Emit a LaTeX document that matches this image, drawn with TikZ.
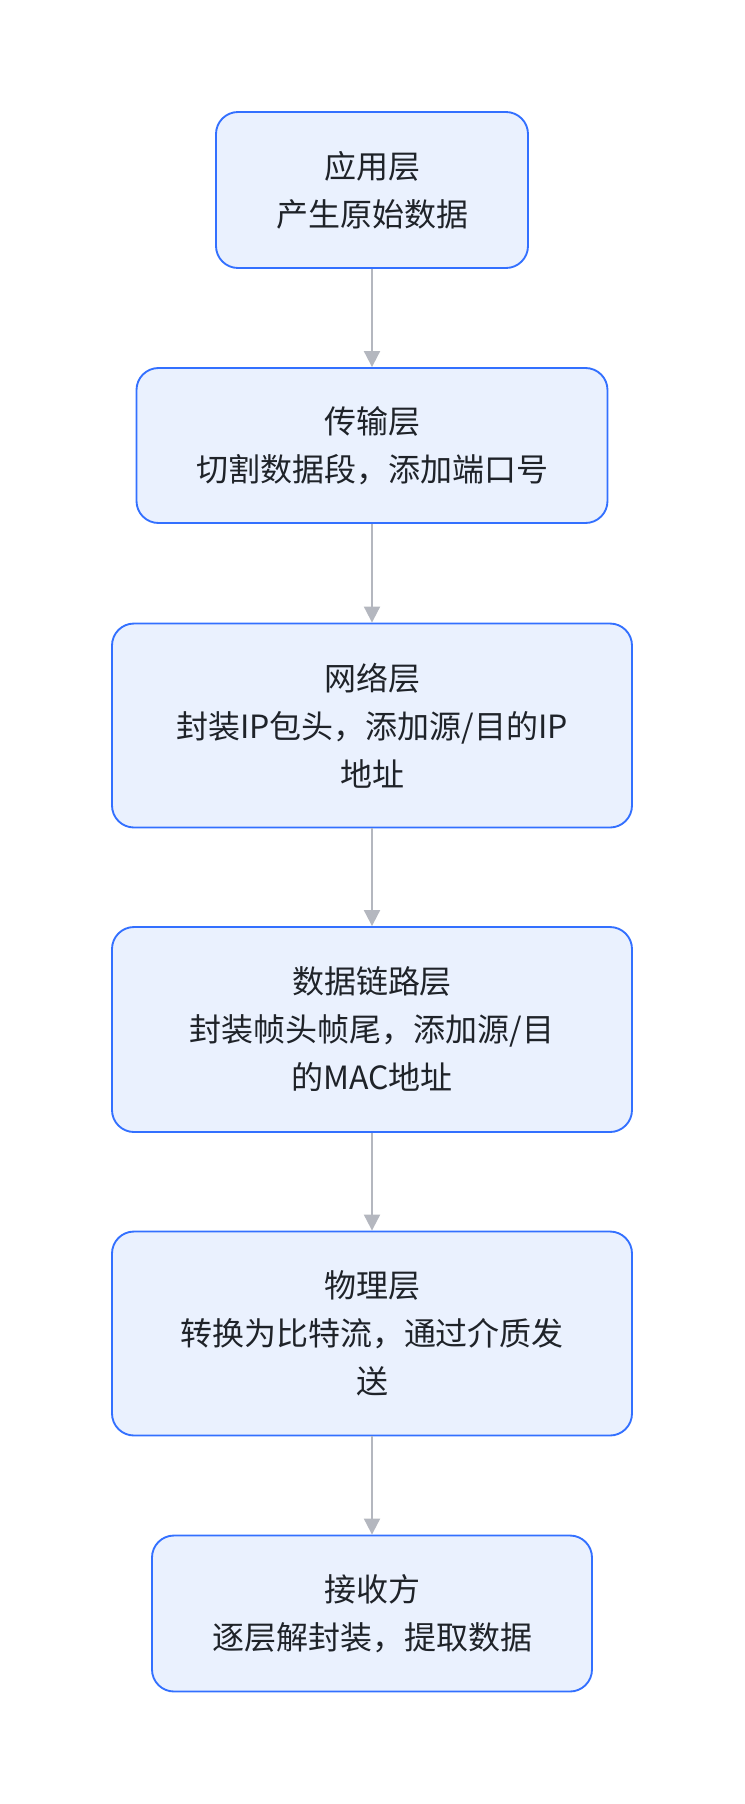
\documentclass[tikz,border=0pt]{standalone}
\usepackage{fontspec}
\setmainfont{Noto Sans CJK SC}
\usetikzlibrary{arrows.meta}
\definecolor{boxborder}{HTML}{3370FF}
\definecolor{boxfill}{HTML}{EAF1FE}
\definecolor{arrowgray}{HTML}{B4B7BF}
\definecolor{textdark}{HTML}{1F2329}
\begin{document}
\begin{tikzpicture}[x=0.75pt,y=-0.75pt,
  layer/.style={draw=boxborder, fill=boxfill, rounded corners=16.5pt, line width=1.4pt,
    align=center, inner sep=0pt, text=textdark, font=\fontsize{24}{36}\selectfont},
  flow/.style={draw=arrowgray, line width=1.5pt, -{Triangle[width=12pt,length=12pt]}}]
\useasboundingbox (0,0) rectangle (744,1804);
\node[layer, minimum width=234pt, minimum height=117pt] (a) at (372,190) {应用层\\产生原始数据};
\node[layer, minimum width=353.25pt, minimum height=116.25pt] (b) at (372,445.5) {传输层\\切割数据段，添加端口号};
\node[layer, minimum width=390pt, minimum height=153pt] (c) at (372,725.5) {网络层\\封装IP包头，添加源/目的IP\\地址};
\node[layer, minimum width=390pt, minimum height=153.75pt] (d) at (372,1029.5) {数据链路层\\封装帧头帧尾，添加源/目\\的MAC地址};
\node[layer, minimum width=390pt, minimum height=153pt] (e) at (372,1333.5) {物理层\\转换为比特流，通过介质发\\送};
\node[layer, minimum width=330pt, minimum height=117pt] (f) at (372,1613.5) {接收方\\逐层解封装，提取数据};
\draw[flow] (a) -- (b);
\draw[flow] (b) -- (c);
\draw[flow] (c) -- (d);
\draw[flow] (d) -- (e);
\draw[flow] (e) -- (f);
\end{tikzpicture}
\end{document}
